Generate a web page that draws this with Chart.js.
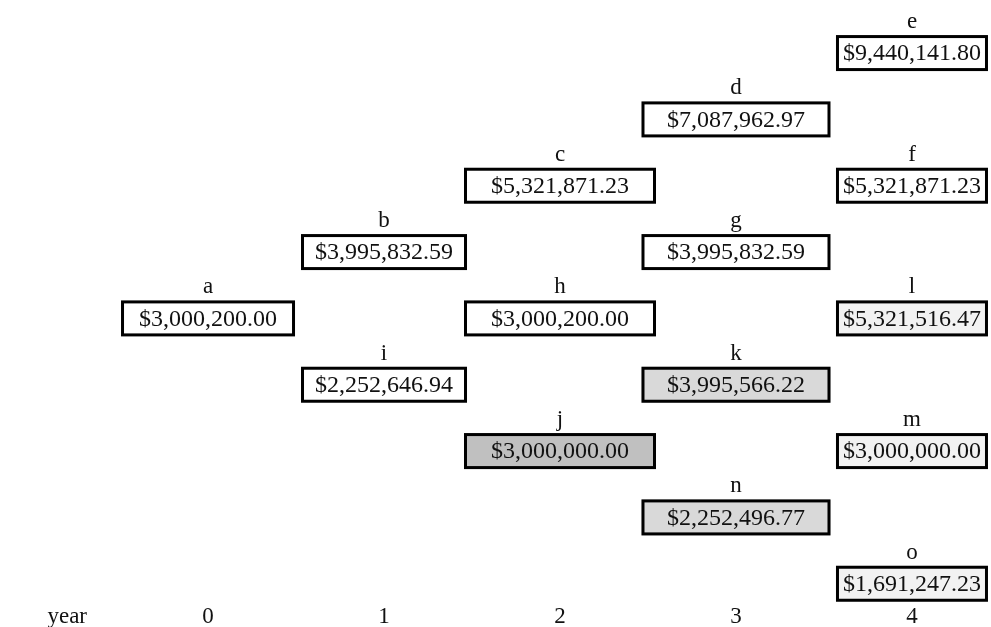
<!DOCTYPE html>
<html>
<head>
<meta charset="utf-8">
<script src="https://cdn.jsdelivr.net/npm/chart.js@4.4.1/dist/chart.umd.min.js"></script>
<style>
    body { margin: 0; background: #fff; }
    #wrap { width: 991px; height: 627px; position: relative; }
</style>
</head>
<body>
<div id="wrap"><canvas id="treeChart"></canvas></div>
<script>
// binomial tree nodes
const nodeNames = ['a', 'b', 'c', 'd', 'e', 'f', 'g', 'h', 'i', 'j', 'k', 'l', 'm', 'n', 'o'];
const nodeYear = [0, 1, 2, 3, 4, 4, 3, 2, 1, 2, 3, 4, 4, 3, 4];
const nodeRow = [4, 3, 2, 1, 0, 2, 3, 4, 5, 6, 5, 4, 6, 7, 8];
const nodeValues = [3000200.00, 3995832.59, 5321871.23, 7087962.97, 9440141.80, 5321871.23, 3995832.59,
    3000200.00, 2252646.94, 3000000.00, 3995566.22, 5321516.47, 3000000.00, 2252496.77, 1691247.23];
const yearLabels = ['0', '1', '2', '3', '4'];

// styling
const nodeFill = ['#fff', '#fff', '#fff', '#fff', '#fff', '#fff', '#fff', '#fff', '#fff',
    '#c0c0c0', '#d9d9d9', '#f2f2f2', '#f2f2f2', '#d9d9d9', '#f2f2f2'];
const boxWidths = [174, 166, 192, 189, 152];
const FONT = '"Liberation Serif", "DejaVu Serif", serif';

const boxPlugin = {
    id: 'boxes',
    afterDatasetsDraw(chart) {
        const ctx = chart.ctx;
        const meta = chart.getDatasetMeta(0);
        ctx.save();
        ctx.textAlign = 'center';
        ctx.textBaseline = 'middle';
        meta.data.forEach(function(pt, i) {
            const w = boxWidths[nodeYear[i]];
            const h = 36;
            const x = pt.x - w / 2;
            const y = pt.y - h / 2;
            ctx.fillStyle = nodeFill[i];
            ctx.fillRect(x, y, w, h);
            ctx.lineWidth = 3;
            ctx.strokeStyle = '#000';
            ctx.strokeRect(x + 1.5, y + 1.5, w - 3, h - 3);
            ctx.fillStyle = '#111';
            ctx.font = '24px ' + FONT;
            const txt = '$' + nodeValues[i].toLocaleString('en-US', { minimumFractionDigits: 2, maximumFractionDigits: 2 });
            ctx.fillText(txt, pt.x, pt.y + 1);
            ctx.font = '23px ' + FONT;
            ctx.fillText(nodeNames[i], pt.x, pt.y - 31);
        });
        ctx.restore();
    }
};

document.addEventListener('DOMContentLoaded', function() {
    const ctx = document.getElementById('treeChart').getContext('2d');
    new Chart(ctx, {
        type: 'scatter',
        data: {
            datasets: [{
                data: nodeYear.map(function(yr, i) { return { x: yr, y: nodeRow[i] }; }),
                pointRadius: 0,
                pointHoverRadius: 0
            }]
        },
        options: {
            animation: false,
            responsive: true,
            maintainAspectRatio: false,
            layout: { padding: 0 },
            plugins: {
                legend: { display: false },
                tooltip: { enabled: false }
            },
            scales: {
                x: {
                    type: 'linear',
                    min: -1.182,
                    max: 4.449,
                    grid: { display: false, drawTicks: false },
                    border: { display: false },
                    afterBuildTicks: function(axis) {
                        axis.ticks = [{ value: -0.80 }].concat(yearLabels.map(function(l, i) { return { value: i }; }));
                    },
                    ticks: {
                        padding: 0,
                        autoSkip: false,
                        maxRotation: 0,
                        color: '#111',
                        font: { family: FONT, size: 23, lineHeight: 0.9 },
                        callback: function(v, idx) { return idx === 0 ? 'year' : yearLabels[idx - 1]; }
                    }
                },
                y: {
                    display: false,
                    reverse: true,
                    min: -0.80,
                    max: 8.34
                }
            }
        },
        plugins: [boxPlugin]
    });
});
</script>
</body>
</html>
